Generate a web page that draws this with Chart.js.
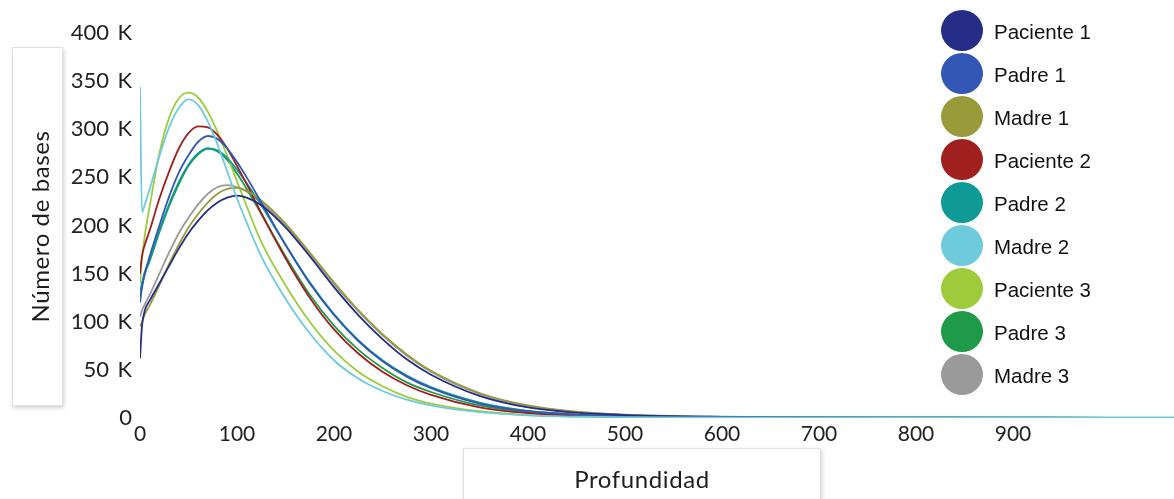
<!DOCTYPE html>
<html>
<head>
<meta charset="utf-8">
<script src="https://cdn.jsdelivr.net/npm/chart.js@4.4.1/dist/chart.umd.min.js"></script>
<style>
  html, body { margin: 0; padding: 0; background: #fff; }
  #wrap { position: relative; width: 1174px; height: 499px; overflow: hidden; }
  #chart { position: absolute; left: 0; top: 0; }
  .axis-box {
    position: absolute; background: #fff; border: 1px solid #e2e2e2;
    box-shadow: 1px 2px 4px rgba(0,0,0,0.18);
    font-family: Lato, 'Open Sans', sans-serif; color: #1e1e1e; font-size: 24px;
    display: flex; align-items: center; justify-content: center;
  }
  #ytitle { left: 12px; top: 47px; width: 49px; height: 357px; }
  #ytitle span { transform: rotate(-90deg); white-space: nowrap; display: block; letter-spacing: 0.6px; margin-left: 4px; }
  #xtitle { left: 463px; top: 448px; width: 356px; height: 60px; align-items: flex-start; }
  #xtitle span { margin-top: 15px; letter-spacing: 0.6px; }
  #legend { position: absolute; left: 940px; top: 10px; }
  .item { position: absolute; left: 0; height: 42px; width: 220px; }
  .dot { position: absolute; left: 1px; top: 0; width: 42px; height: 41px; border-radius: 50%; filter: blur(0.6px); }
  .lbl { position: absolute; left: 54px; top: 10px; font-family: 'Liberation Sans', Arial, sans-serif; font-size: 20.5px; color: #111; white-space: nowrap; }
</style>
</head>
<body>
<div id="wrap">
  <canvas id="chart" width="1174" height="499"></canvas>
  <div id="ytitle" class="axis-box"><span>Número de bases</span></div>
  <div id="xtitle" class="axis-box"><span>Profundidad</span></div>
  <div id="legend"></div>
</div>
<script>
// Depth values (x) shared by all series
const depth = [0, 2, 5, 10, 20, 30, 40, 50, 60, 70, 80, 90, 100, 110, 125, 150, 175, 200, 225, 250, 275, 300, 350, 400, 450, 500, 600, 700, 800, 900, 1000, 1066];

// Number of bases per series, in thousands
const paciente1 = [62, 95, 112, 122, 140, 158, 176, 192, 205, 216, 224, 229, 231, 229, 221, 198, 168, 136, 107, 82, 61, 45, 23, 11, 5.5, 3, 1.2, 0.6, 0.4, 0.3, 0.2, 0.2];
const padre1    = [120, 135, 150, 168, 200, 230, 255, 273, 287, 293, 290, 280, 266, 250, 224, 180, 140, 107, 80, 59, 43, 31, 15, 7, 3.5, 1.8, 0.8, 0.4, 0.3, 0.2, 0.2, 0.1];
const madre1    = [95, 100, 108, 117, 138, 160, 180, 198, 212, 224, 233, 238, 239, 236, 226, 202, 172, 141, 112, 87, 66, 49, 26, 13, 6.5, 3.4, 1.3, 0.6, 0.4, 0.3, 0.2, 0.2];
const paciente2 = [150, 168, 180, 195, 228, 256, 280, 296, 303, 302, 294, 280, 262, 243, 213, 166, 125, 92, 67, 48, 34, 24, 11, 5, 2.5, 1.3, 0.6, 0.3, 0.2, 0.2, 0.1, 0.1];
const padre2    = [130, 140, 152, 165, 195, 222, 245, 263, 275, 280, 278, 270, 258, 244, 221, 180, 141, 108, 81, 60, 44, 32, 16, 7.5, 3.6, 1.8, 0.8, 0.5, 0.3, 0.3, 0.2, 0.2];
const madre2    = [344, 214, 222, 238, 272, 302, 322, 331, 325, 308, 284, 256, 228, 203, 168, 124, 88, 60, 41, 28, 19, 13, 6, 2.8, 1.4, 0.9, 0.7, 0.7, 0.7, 0.7, 0.7, 0.7];
const paciente3 = [140, 165, 190, 220, 275, 312, 332, 338, 333, 318, 297, 272, 246, 220, 183, 138, 100, 70, 48, 33, 22, 15, 7, 3, 1.5, 0.8, 0.4, 0.3, 0.2, 0.2, 0.1, 0.1];
const padre3    = [125, 138, 150, 163, 193, 220, 243, 262, 274, 280, 277, 268, 254, 238, 212, 168, 128, 96, 71, 52, 37, 27, 13, 6, 3, 1.5, 0.7, 0.4, 0.3, 0.2, 0.2, 0.2];
const madre3    = [105, 112, 118, 128, 150, 172, 192, 208, 222, 233, 240, 242, 240, 235, 224, 200, 170, 139, 111, 86, 65, 48, 25, 12.5, 6, 3.2, 1.2, 0.6, 0.4, 0.3, 0.2, 0.2];

const seriesNames  = ['Paciente 1', 'Padre 1', 'Madre 1', 'Paciente 2', 'Padre 2', 'Madre 2', 'Paciente 3', 'Padre 3', 'Madre 3'];
const seriesValues = [paciente1, padre1, madre1, paciente2, padre2, madre2, paciente3, padre3, madre3];
const seriesColors = ['#252d86', '#3357b4', '#999a3a', '#a01f1f', '#109a96', '#6dcbdc', '#9dcb3c', '#1f9a48', '#9a9a9a'];

// Axis ticks
const xTicks = [0, 100, 200, 300, 400, 500, 600, 700, 800, 900];
const yTicks = [0, 50000, 100000, 150000, 200000, 250000, 300000, 350000, 400000];

const datasets = seriesNames.map((name, s) => ({
  label: name,
  data: depth.map((d, i) => ({ x: d, y: seriesValues[s][i] * 1000 })),
  borderColor: seriesColors[s],
  backgroundColor: seriesColors[s],
  borderWidth: 1.8,
  pointRadius: 0,
  cubicInterpolationMode: 'monotone',
  fill: false,
  order: name === 'Madre 2' ? 0 : s + 1,
}));

new Chart(document.getElementById('chart').getContext('2d'), {
  type: 'line',
  data: { datasets },
  options: {
    responsive: false,
    animation: false,
    devicePixelRatio: 1,
    layout: { padding: { top: 33, left: 0, right: 0, bottom: 0 } },
    plugins: { legend: { display: false }, tooltip: { enabled: false } },
    scales: {
      x: {
        type: 'linear',
        min: 0,
        max: 1066,
        grid: { display: false, drawTicks: false },
        border: { display: false },
        afterBuildTicks: (scale) => { scale.ticks = xTicks.map(v => ({ value: v })); },
        afterFit: (scale) => { scale.height = 81; },
        ticks: {
          autoSkip: false,
          maxRotation: 0,
          padding: 4,
          color: '#222',
          font: { family: 'Lato, "Open Sans", sans-serif', size: 21 },
        },
      },
      y: {
        min: 0,
        max: 400000,
        grid: { display: false, drawTicks: false },
        border: { display: false },
        afterBuildTicks: (scale) => { scale.ticks = yTicks.map(v => ({ value: v })); },
        afterFit: (scale) => { scale.width = 140; },
        ticks: {
          padding: 8,
          color: '#222',
          font: { family: 'Lato, "Open Sans", sans-serif', size: 22 },
          callback: (v) => v === 0 ? '0' : (v / 1000) + ' \u2009K',
        },
      },
    },
  },
});

// Legend with round swatches on the right
const legend = document.getElementById('legend');
seriesNames.forEach((name, i) => {
  const item = document.createElement('div');
  item.className = 'item';
  item.style.top = (i * 43) + 'px';
  const dot = document.createElement('div');
  dot.className = 'dot';
  dot.style.background = seriesColors[i];
  const lbl = document.createElement('div');
  lbl.className = 'lbl';
  lbl.textContent = name;
  item.appendChild(dot);
  item.appendChild(lbl);
  legend.appendChild(item);
});
</script>
</body>
</html>
